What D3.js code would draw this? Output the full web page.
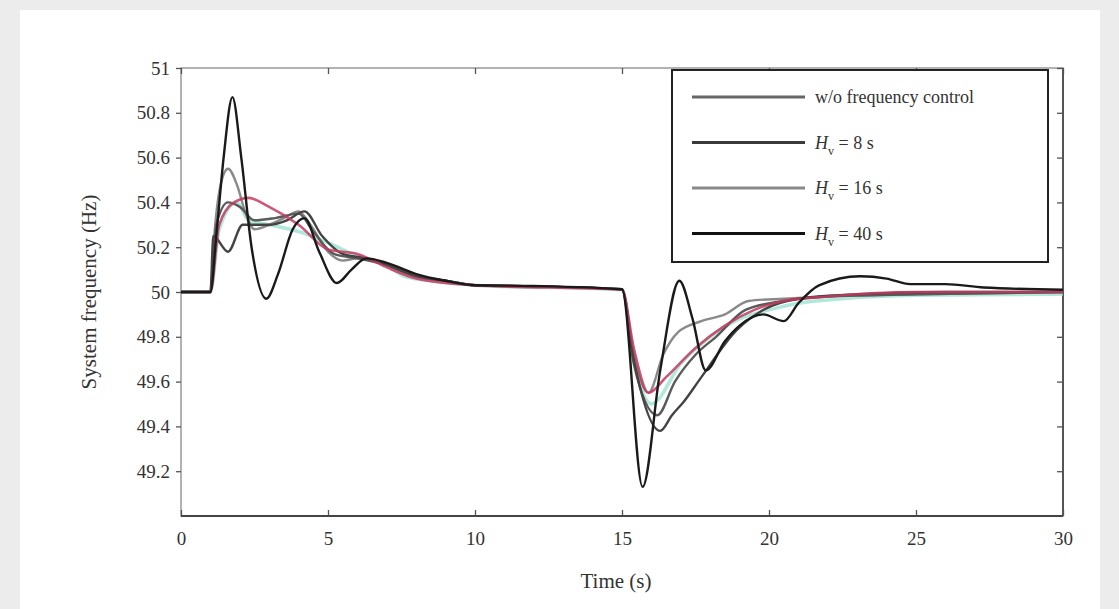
<!DOCTYPE html>
<html>
<head>
<meta charset="utf-8">
<script src="https://cdn.jsdelivr.net/npm/d3@7"></script>
<style>
  body { margin: 0; background: #ececec; }
  svg { display: block; }
</style>
</head>
<body>
<svg id="chart"></svg>
<script>
// data
const xTicks = [0, 5, 10, 15, 20, 25, 30];
const yTicks = [49.2, 49.4, 49.6, 49.8, 50, 50.2, 50.4, 50.6, 50.8, 51];
const yTickLabels = ["49.2", "49.4", "49.6", "49.8", "50", "50.2", "50.4", "50.6", "50.8", "51"];
const legendLabels = ["w/o frequency control", "H", "H", "H"];
const legendSubs = ["", "v", "v", "v"];
const legendTails = ["", " = 8 s", " = 16 s", " = 40 s"];

const tealSeries = [[0,50],[1,50],[1.3,50.28],[1.9,50.4],[2.3,50.32],[3,50.3],[4,50.27],[5,50.22],[6,50.16],[7,50.12],[7.6,50.07],[8.5,50.05],[10,50.03],[15,50.01],[15.4,49.7],[16,49.5],[17,49.68],[18,49.8],[19,49.88],[20,49.92],[21,49.95],[22.5,49.97],[25,49.985],[30,49.99]];
const redSeries = [[0,50],[1,50],[1.3,50.3],[1.8,50.4],[2.3,50.42],[3,50.38],[4,50.3],[5,50.19],[6,50.17],[7,50.11],[8,50.06],[9,50.04],[10,50.03],[15,50.01],[15.4,49.75],[15.9,49.55],[16.5,49.62],[17.5,49.75],[18.5,49.85],[19.5,49.92],[20.5,49.96],[22,49.98],[25,50.0],[30,50.0]];
const series1 = [[0,50],[1,50],[1.1,50.25],[1.6,50.18],[2.1,50.3],[3,50.3],[3.6,50.32],[4.2,50.36],[4.8,50.25],[5.5,50.17],[6.3,50.15],[7,50.12],[8,50.07],[9,50.05],[10,50.03],[12,50.025],[15,50.012],[15.4,49.7],[16.3,49.38],[16.7,49.45],[17.1,49.51],[17.7,49.62],[18.9,49.83],[19.8,49.92],[21,49.97],[23,49.99],[26,50.0],[30,50.0]];
const series2 = [[0,50],[1,50],[1.2,50.3],[1.6,50.4],[2.0,50.38],[2.5,50.32],[3.2,50.33],[4.0,50.35],[4.5,50.27],[5.2,50.17],[6,50.15],[7,50.12],[8,50.07],[9,50.05],[10,50.03],[12,50.025],[15,50.012],[15.4,49.68],[16.2,49.45],[16.8,49.6],[17.5,49.72],[18.2,49.8],[19.2,49.92],[20.5,49.96],[22,49.98],[25,49.99],[30,50.0]];
const series3 = [[0,50],[1,50],[1.15,50.28],[1.35,50.48],[1.6,50.55],[1.9,50.48],[2.2,50.35],[2.5,50.28],[3,50.3],[3.5,50.33],[4.0,50.36],[4.4,50.3],[5,50.18],[5.5,50.14],[6,50.15],[7,50.12],[8,50.07],[9,50.05],[10,50.03],[12,50.025],[15,50.012],[15.4,49.72],[15.9,49.55],[16.4,49.72],[16.9,49.82],[17.7,49.87],[18.5,49.9],[19.3,49.96],[20.5,49.97],[22,49.98],[25,49.99],[30,50.0]];
const series4 = [[0,50],[1.0,50],[1.2,50.25],[1.45,50.6],[1.75,50.87],[2.05,50.6],[2.4,50.2],[2.9,49.97],[3.3,50.08],[3.8,50.28],[4.2,50.33],[4.7,50.18],[5.3,50.04],[5.8,50.1],[6.3,50.15],[7,50.13],[8,50.08],[9,50.05],[10,50.03],[12,50.027],[15,50.012],[15.7,49.13],[16.3,49.65],[16.95,50.05],[17.4,49.88],[17.85,49.65],[18.5,49.78],[19,49.85],[19.8,49.9],[20.5,49.87],[21,49.95],[21.7,50.03],[23.1,50.07],[24,50.06],[24.8,50.035],[26,50.035],[27.3,50.02],[30,50.01]];

const W = 1119, H = 609;
const margin = {left: 181, right: 56, top: 68, bottom: 93};

const svg = d3.select("#chart").attr("width", W).attr("height", H);

// white paper with grey edges
svg.append("rect").attr("x", 20).attr("y", 10).attr("width", 1080).attr("height", 599).attr("fill", "#fff");

const x = d3.scaleLinear().domain([0, 30]).range([margin.left, W - margin.right]);
const y = d3.scaleLinear().domain([49, 51]).range([H - margin.bottom, margin.top]);

const font = "'Liberation Serif', 'DejaVu Serif', serif";

// frame
svg.append("rect")
    .attr("x", x(0)).attr("y", y(51))
    .attr("width", x(30) - x(0)).attr("height", y(49) - y(51))
    .attr("fill", "none").attr("stroke", "#999").attr("stroke-width", 1.5);

// axes, MATLAB style inward ticks
const xAxis = svg.append("g").attr("transform", `translate(0,${y(49)})`)
    .call(d3.axisBottom(x).tickValues(xTicks).tickSize(-6).tickPadding(16));
const xTop = svg.append("g").attr("transform", `translate(0,${y(51)})`)
    .call(d3.axisTop(x).tickValues(xTicks).tickSize(-6).tickFormat(""));
const yAxis = svg.append("g").attr("transform", `translate(${x(0)},0)`)
    .call(d3.axisLeft(y).tickValues(yTicks).tickSize(5)
        .tickFormat((d, i) => yTickLabels[i]).tickPadding(6));
const yRight = svg.append("g").attr("transform", `translate(${x(30)},0)`)
    .call(d3.axisRight(y).tickValues(yTicks).tickSize(-6).tickFormat(""));

[xAxis, xTop, yAxis, yRight].forEach(g => {
    g.select(".domain").remove();
    g.selectAll(".tick line").attr("stroke", "#555").attr("stroke-width", 1.3);
    g.selectAll("text").attr("font-family", font).attr("font-size", 19).attr("fill", "#333");
});
svg.append("line").attr("x1", x(0)).attr("x2", x(30)).attr("y1", y(49)).attr("y2", y(49))
    .attr("stroke", "#444").attr("stroke-width", 2);
svg.append("line").attr("x1", x(30)).attr("x2", x(30)).attr("y1", y(51)).attr("y2", y(49))
    .attr("stroke", "#555").attr("stroke-width", 2);

// lines
const line = d3.line().x(d => x(d[0])).y(d => y(d[1])).curve(d3.curveMonotoneX);

const drawn = [
    {data: tealSeries, color: "#8fdfcc", width: 3.5, opacity: 0.7},
    {data: series3, color: "#8a8a8a", width: 2.4, opacity: 1},
    {data: series2, color: "#5a5a5a", width: 2.4, opacity: 1},
    {data: series1, color: "#444", width: 2.4, opacity: 1},
    {data: redSeries, color: "#c43a5e", width: 2.6, opacity: 0.85},
    {data: series4, color: "#1a1a1a", width: 2.4, opacity: 1}
];
svg.selectAll("path.series")
    .data(drawn)
    .join("path")
    .attr("class", "series")
    .attr("d", d => line(d.data))
    .attr("fill", "none")
    .attr("stroke", d => d.color)
    .attr("stroke-width", d => d.width)
    .attr("stroke-opacity", d => d.opacity)
    .attr("stroke-linejoin", "round");

// legend
const legendColors = ["#666", "#3a3a3a", "#8a8a8a", "#111"];
const lg = svg.append("g");
lg.append("rect").attr("x", 672).attr("y", 70).attr("width", 376).attr("height", 192)
    .attr("fill", "#fff").attr("stroke", "#222").attr("stroke-width", 2);
legendLabels.forEach((lab, i) => {
    const ly = 97 + i * 45.5;
    lg.append("line").attr("x1", 692).attr("x2", 805).attr("y1", ly).attr("y2", ly)
        .attr("stroke", legendColors[i]).attr("stroke-width", 3);
    const t = lg.append("text").attr("x", 815).attr("y", ly + 6)
        .attr("font-family", font).attr("font-size", 18).attr("fill", "#333");
    if (legendSubs[i]) {
        t.append("tspan").attr("font-style", "italic").text(lab);
        t.append("tspan").attr("font-size", 12).attr("dy", 6).text(legendSubs[i]);
        t.append("tspan").attr("dy", -6).text(legendTails[i]);
    } else {
        t.text(lab);
    }
});

// axis titles
svg.append("text").attr("x", x(15) - 6).attr("y", 588).attr("text-anchor", "middle")
    .attr("font-family", font).attr("font-size", 21).attr("fill", "#333").text("Time (s)");
svg.append("text").attr("transform", `translate(96,${y(50)}) rotate(-90)`)
    .attr("text-anchor", "middle")
    .attr("font-family", font).attr("font-size", 21).attr("fill", "#333").text("System frequency (Hz)");
</script>
</body>
</html>
